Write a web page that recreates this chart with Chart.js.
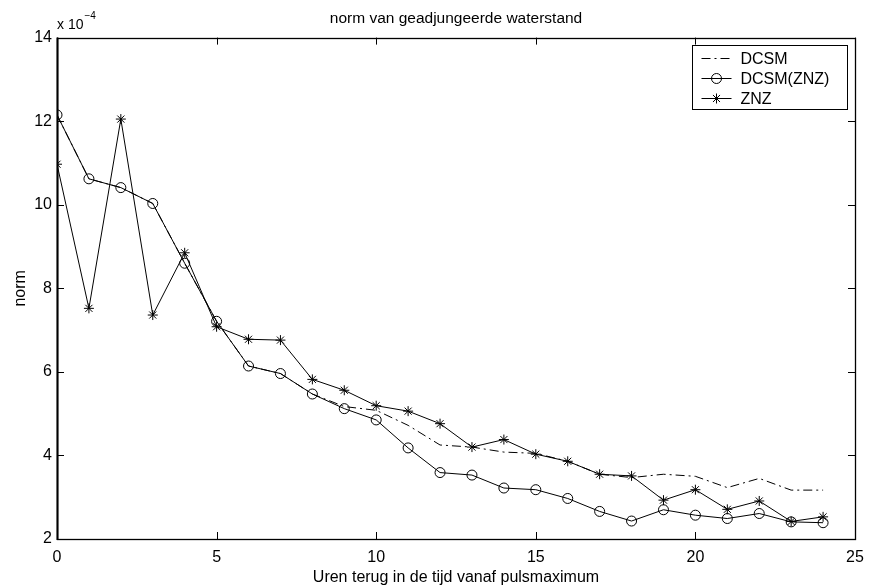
<!DOCTYPE html>
<html>
<head>
<meta charset="utf-8">
<script src="https://cdn.jsdelivr.net/npm/chart.js@4.4.0/dist/chart.umd.min.js"></script>
<style>
html, body { margin: 0; padding: 0; background: #fff; }
canvas { display: block; }
</style>
</head>
<body>
<canvas id="c" width="877" height="587"></canvas>
<script>
// ---- data (values in units of 1e-4) ----
const hours = [0,1,2,3,4,5,6,7,8,9,10,11,12,13,14,15,16,17,18,19,20,21,22,23,24];
const dcsm    = [12.15,10.62,10.41,10.03,8.60,7.21,6.14,5.96,5.47,5.17,5.08,4.72,4.25,4.20,4.08,4.05,3.86,3.55,3.47,3.55,3.50,3.23,3.45,3.17,3.17];
const dcsmZnz = [12.15,10.62,10.41,10.03,8.60,7.21,6.14,5.96,5.47,5.12,4.85,4.18,3.59,3.53,3.22,3.18,2.97,2.66,2.43,2.70,2.57,2.49,2.61,2.41,2.39];
const znz     = [10.97,7.52,12.05,7.36,8.85,7.08,6.78,6.76,5.82,5.56,5.19,5.06,4.76,4.20,4.38,4.03,3.86,3.55,3.51,2.93,3.18,2.71,2.91,2.42,2.53];
const seriesNames = ['DCSM', 'DCSM(ZNZ)', 'ZNZ'];
const xTickValues = [0, 5, 10, 15, 20, 25];
const yTickValues = [2, 4, 6, 8, 10, 12, 14];
const exponent = '\u22124';
const titleText = 'norm van geadjungeerde waterstand';
const xLabel = 'Uren terug in de tijd vanaf pulsmaximum';
const yLabel = 'norm';

const FONT = '"Liberation Sans", Arial, Helvetica, sans-serif';
const toPoints = arr => hours.map((h, i) => ({ x: h, y: arr[i] }));

// inward ticks, axes box, exponent label and legend
const matlabPlugin = {
  id: 'matlabDecor',
  afterDraw(chart) {
    const ctx = chart.ctx;
    const { left, right, top, bottom } = chart.chartArea;
    const xs = chart.scales.x, ys = chart.scales.y;
    ctx.save();
    ctx.strokeStyle = '#000';
    ctx.lineWidth = 1;
    const tl = 7;
    ctx.beginPath();
    xs.ticks.forEach(t => {
      const px = Math.round(xs.getPixelForValue(t.value)) + 0.5;
      ctx.moveTo(px, bottom); ctx.lineTo(px, bottom - tl);
      ctx.moveTo(px, top); ctx.lineTo(px, top + tl);
    });
    ys.ticks.forEach(t => {
      const py = Math.round(ys.getPixelForValue(t.value)) + 0.5;
      ctx.moveTo(left, py); ctx.lineTo(left + tl, py);
      ctx.moveTo(right, py); ctx.lineTo(right - tl, py);
    });
    ctx.stroke();
    // box
    ctx.lineWidth = 1.3;
    ctx.strokeRect(Math.round(left) + 0.5, Math.round(top) + 0.5, Math.round(right - left), Math.round(bottom - top));
    ctx.lineWidth = 2;
    ctx.beginPath();
    ctx.moveTo(Math.round(left) + 0.5, top); ctx.lineTo(Math.round(left) + 0.5, bottom + 1);
    ctx.stroke();

    // exponent label
    ctx.fillStyle = '#000';
    ctx.textAlign = 'left';
    ctx.textBaseline = 'alphabetic';
    ctx.font = '14px ' + FONT;
    const base = 'x 10';
    ctx.fillText(base, left, top - 9);
    const w = ctx.measureText(base).width;
    ctx.font = '10px ' + FONT;
    ctx.fillText(exponent, left + w + 1, top - 19);

    // legend
    const bw = 155, bh = 64;
    const bx = Math.round(right - 8 - bw) + 0.5, by = Math.round(top + 7) + 0.5;
    ctx.fillStyle = '#fff';
    ctx.fillRect(bx, by, bw, bh);
    ctx.lineWidth = 1;
    ctx.strokeStyle = '#000';
    ctx.strokeRect(bx, by, bw, bh);
    chart.data.datasets.forEach((ds, i) => {
      const cy = by + 13 + i * 20;
      const x0 = bx + 9, x1 = bx + 39, xm = (x0 + x1) / 2;
      ctx.save();
      ctx.strokeStyle = '#000';
      ctx.lineWidth = 1;
      ctx.setLineDash(ds.borderDash || []);
      ctx.beginPath();
      ctx.moveTo(x0, cy); ctx.lineTo(x1, cy);
      ctx.stroke();
      ctx.setLineDash([]);
      if (ds.pointRadius > 0) {
        ctx.fillStyle = ds.pointBackgroundColor;
        ctx.strokeStyle = '#000';
        Chart.helpers.drawPoint(ctx, {
          pointStyle: ds.pointStyle,
          radius: ds.pointRadius,
          borderWidth: 1,
          rotation: 0
        }, xm, cy);
      }
      ctx.restore();
      ctx.fillStyle = '#000';
      ctx.font = '16px ' + FONT;
      ctx.textBaseline = 'middle';
      ctx.textAlign = 'left';
      ctx.fillText(ds.label, bx + 48, cy + 1);
    });
    ctx.restore();
  }
};

new Chart(document.getElementById('c'), {
  type: 'line',
  data: {
    datasets: [
      {
        label: seriesNames[0],
        data: toPoints(dcsm),
        borderColor: '#000',
        borderWidth: 1,
        borderDash: [9, 4, 2, 4],
        pointRadius: 0,
        fill: false,
        tension: 0,
        order: 3
      },
      {
        label: seriesNames[1],
        data: toPoints(dcsmZnz),
        borderColor: '#000',
        borderWidth: 1,
        pointStyle: 'circle',
        pointRadius: 5,
        pointBorderWidth: 1,
        pointBorderColor: '#000',
        pointBackgroundColor: 'rgba(0,0,0,0)',
        fill: false,
        tension: 0,
        order: 2
      },
      {
        label: seriesNames[2],
        data: toPoints(znz),
        borderColor: '#000',
        borderWidth: 1,
        pointStyle: 'star',
        pointRadius: 5,
        pointBorderWidth: 1,
        pointBorderColor: '#000',
        pointBackgroundColor: '#000',
        fill: false,
        tension: 0,
        order: 1
      }
    ]
  },
  options: {
    responsive: false,
    animation: false,
    devicePixelRatio: 1,
    layout: { padding: { left: 0, right: 22, top: 0, bottom: 0 } },
    plugins: {
      legend: { display: false },
      tooltip: { enabled: false },
      title: {
        display: true,
        fullSize: false,
        text: titleText,
        color: '#000',
        font: { family: FONT, size: 15.5, weight: 'normal' },
        padding: { top: 9, bottom: 10 }
      }
    },
    scales: {
      x: {
        type: 'linear',
        min: xTickValues[0],
        max: xTickValues[xTickValues.length - 1],
        afterBuildTicks(scale) { scale.ticks = xTickValues.map(v => ({ value: v })); },
        afterFit(scale) { scale.height = 48; },
        grid: { display: false, drawTicks: false },
        border: { display: false },
        ticks: {
          color: '#000',
          font: { family: FONT, size: 16 },
          padding: 9,
          maxRotation: 0,
          autoSkip: false
        },
        title: {
          display: true,
          text: xLabel,
          color: '#000',
          font: { family: FONT, size: 16 },
          padding: { top: 0, bottom: 0 }
        }
      },
      y: {
        type: 'linear',
        min: yTickValues[0],
        max: yTickValues[yTickValues.length - 1],
        afterBuildTicks(scale) { scale.ticks = yTickValues.map(v => ({ value: v })); },
        afterFit(scale) { scale.width = 57; },
        grid: { display: false, drawTicks: false },
        border: { display: false },
        ticks: {
          color: '#000',
          font: { family: FONT, size: 16 },
          padding: 5,
          autoSkip: false
        },
        title: {
          display: true,
          text: yLabel,
          color: '#000',
          font: { family: FONT, size: 16 },
          padding: { top: 11, bottom: 0 }
        }
      }
    }
  },
  plugins: [matlabPlugin]
});
</script>
</body>
</html>
